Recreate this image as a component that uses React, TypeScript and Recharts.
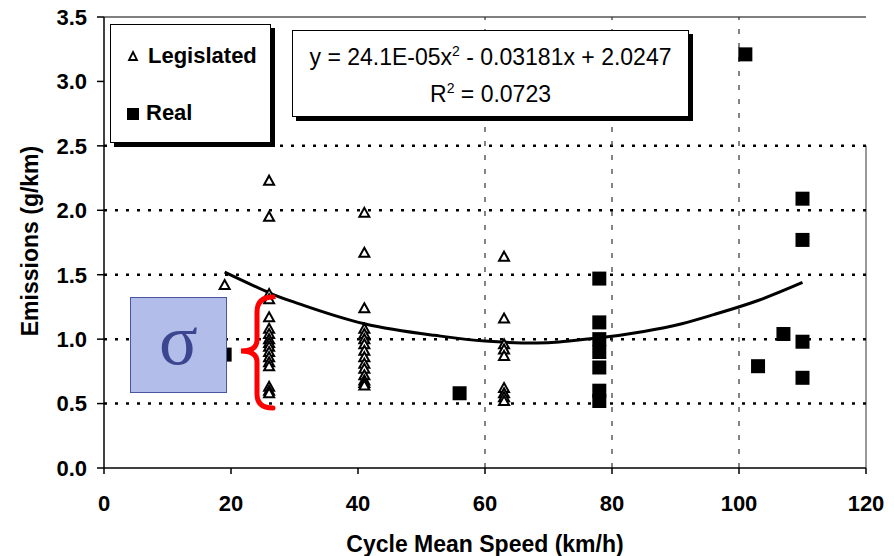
import React from "react";
import {
  ComposedChart,
  Scatter,
  Line,
  XAxis,
  YAxis,
  ReferenceLine,
  Label,
} from "recharts";

// cycle mean speed (km/h) and emissions (g/km)
const legislated26 = [2.23, 1.95, 1.35, 1.31, 1.17, 1.08, 1.04, 1.0, 0.97, 0.94, 0.9, 0.86, 0.82, 0.79, 0.63, 0.6, 0.58];
const legislated41 = [1.98, 1.67, 1.24, 1.08, 1.04, 1.0, 0.96, 0.91, 0.86, 0.81, 0.77, 0.72, 0.68, 0.66, 0.64];
const legislated63 = [1.64, 1.16, 0.96, 0.92, 0.87, 0.62, 0.58, 0.55, 0.52];
const legislatedOther = [{ x: 19, y: 1.42 }];

const real78 = [1.47, 1.13, 1.0, 0.9, 0.78, 0.6, 0.52];
const realOther = [
  { x: 19, y: 0.88 },
  { x: 56, y: 0.58 },
  { x: 101, y: 3.21 },
  { x: 103, y: 0.79 },
  { x: 107, y: 1.04 },
  { x: 110, y: 2.09 },
  { x: 110, y: 1.77 },
  { x: 110, y: 0.98 },
  { x: 110, y: 0.7 },
];

const trendX = [19, 26, 31, 41, 52, 60, 68, 72, 78, 85, 91, 96, 103, 110];
const trendY = [1.52, 1.36, 1.27, 1.12, 1.03, 0.985, 0.97, 0.98, 1.01, 1.06, 1.12, 1.19, 1.3, 1.44];

const xTicks = [0, 20, 40, 60, 80, 100, 120];
const yTicks = [0, 0.5, 1.0, 1.5, 2.0, 2.5, 3.0, 3.5];
const hGrid = [0.5, 1.0, 1.5, 2.0, 2.5];
const vGrid = [60, 80, 100];

const legislated = [
  ...legislatedOther,
  ...legislated26.map((y) => ({ x: 26, y })),
  ...legislated41.map((y) => ({ x: 41, y })),
  ...legislated63.map((y) => ({ x: 63, y })),
];
const real = [...realOther, ...real78.map((y) => ({ x: 78, y }))];
const trend = trendX.map((x, i) => ({ x, y: trendY[i] }));

const FONT = "'Liberation Sans', Arial, sans-serif";

const Triangle = (props: any) => {
  const { cx, cy } = props;
  if (cx == null || cy == null) return null;
  return (
    <path
      d={`M${cx},${cy - 5} L${cx + 5},${cy + 4} L${cx - 5},${cy + 4} Z`}
      fill="#fff"
      stroke="#000"
      strokeWidth={2}
    />
  );
};

const Square = (props: any) => {
  const { cx, cy } = props;
  if (cx == null || cy == null) return null;
  return <rect x={cx - 7} y={cy - 7} width={14} height={14} fill="#000" />;
};

const boxBase: React.CSSProperties = {
  position: "absolute",
  background: "#fff",
  border: "1.5px solid #000",
  boxShadow: "4px 4px 0 #000",
  boxSizing: "border-box",
};

export default function App() {
  return (
    <div style={{ position: "relative", width: 894, height: 556, background: "#fff", fontFamily: FONT }}>
      <style>{"body{margin:0}"}</style>
      <ComposedChart
        width={894}
        height={556}
        margin={{ top: 17, right: 28, left: 44, bottom: 28 }}
        style={{ fontFamily: FONT }}
      >
        <XAxis
          dataKey="x"
          type="number"
          domain={[0, 120]}
          ticks={xTicks}
          height={60}
          stroke="#000"
          strokeWidth={1.5}
          tickSize={6}
          tickMargin={21}
          tick={{ fontSize: 22, fontWeight: "bold", fill: "#000" }}
        >
          <Label
            value="Cycle Mean Speed (km/h)"
            position="bottom"
            offset={8}
            style={{ fontSize: 23, fontWeight: "bold", fill: "#000" }}
          />
        </XAxis>
        <YAxis
          dataKey="y"
          type="number"
          domain={[0, 3.5]}
          ticks={yTicks}
          width={60}
          stroke="#000"
          strokeWidth={1.5}
          tickSize={7}
          tickMargin={10}
          tickFormatter={(v: number) => v.toFixed(1)}
          tick={{ fontSize: 22, fontWeight: "bold", fill: "#000" }}
        />
        <ReferenceLine y={3.5} stroke="#000" strokeWidth={1.2} />
        <ReferenceLine
          segment={[{ x: 120, y: 0 }, { x: 120, y: 2.5 }]}
          stroke="#555"
          strokeWidth={1.2}
        />
        {hGrid.map((v) => (
          <ReferenceLine key={"h" + v} y={v} stroke="#000" strokeWidth={2.5} strokeDasharray="3 8" />
        ))}
        {vGrid.map((v) => (
          <ReferenceLine key={"v" + v} x={v} stroke="#333" strokeWidth={1.2} strokeDasharray="5 9" />
        ))}
        <Line
          data={trend}
          dataKey="y"
          type="natural"
          stroke="#000"
          strokeWidth={3}
          dot={false}
          activeDot={false}
          isAnimationActive={false}
        />
        <Scatter data={real} dataKey="y" shape={<Square />} isAnimationActive={false} />
        <Scatter data={legislated} dataKey="y" shape={<Triangle />} isAnimationActive={false} />
      </ComposedChart>

      {/* y axis title */}
      <div
        style={{
          position: "absolute",
          left: 30,
          top: 241,
          transform: "translate(-50%, -50%) rotate(-90deg)",
          fontSize: 23,
          fontWeight: "bold",
          whiteSpace: "nowrap",
        }}
      >
        Emissions (g/km)
      </div>

      {/* legend */}
      <div style={{ ...boxBase, left: 110, top: 24, width: 161, height: 119 }}>
        <div style={{ position: "absolute", left: 15, top: 18, display: "flex", alignItems: "center" }}>
          <svg width={14} height={14}>
            <path d="M7,3 L11,11 L3,11 Z" fill="#fff" stroke="#000" strokeWidth={1.8} />
          </svg>
          <span style={{ marginLeft: 8, fontSize: 22, fontWeight: "bold" }}>Legislated</span>
        </div>
        <div style={{ position: "absolute", left: 15, top: 75, display: "flex", alignItems: "center" }}>
          <svg width={14} height={14}>
            <rect x={1} y={2} width={12} height={12} fill="#000" />
          </svg>
          <span style={{ marginLeft: 6, fontSize: 22, fontWeight: "bold" }}>Real</span>
        </div>
      </div>

      {/* regression equation */}
      <div
        style={{
          ...boxBase,
          left: 292,
          top: 30,
          width: 397,
          height: 87,
          textAlign: "center",
          fontSize: 23,
          lineHeight: "37px",
          paddingTop: 8,
        }}
      >
        <div>
          y = 24.1E-05x<sup style={{ fontSize: 14, lineHeight: 0 }}>2</sup> - 0.03181x + 2.0247
        </div>
        <div>
          R<sup style={{ fontSize: 14, lineHeight: 0 }}>2</sup> = 0.0723
        </div>
      </div>

      {/* sigma annotation */}
      <div
        style={{
          position: "absolute",
          left: 130,
          top: 297,
          width: 97,
          height: 96,
          boxSizing: "border-box",
          background: "#b3bde9",
          border: "1.5px solid #4a55a0",
          color: "#3c4690",
          fontFamily: "'Liberation Serif', serif",
          fontSize: 72,
          lineHeight: "84px",
          textAlign: "center",
        }}
      >
        σ
      </div>
      <svg style={{ position: "absolute", left: 0, top: 0 }} width={894} height={556} pointerEvents="none">
        <path
          d="M273,297 Q257,297 257,312 L257,340 Q257,351 241,351 Q257,351 257,362 L257,394 Q257,408 273,408"
          fill="none"
          stroke="#ff0000"
          strokeWidth={5}
          strokeLinecap="round"
        />
      </svg>
    </div>
  );
}
